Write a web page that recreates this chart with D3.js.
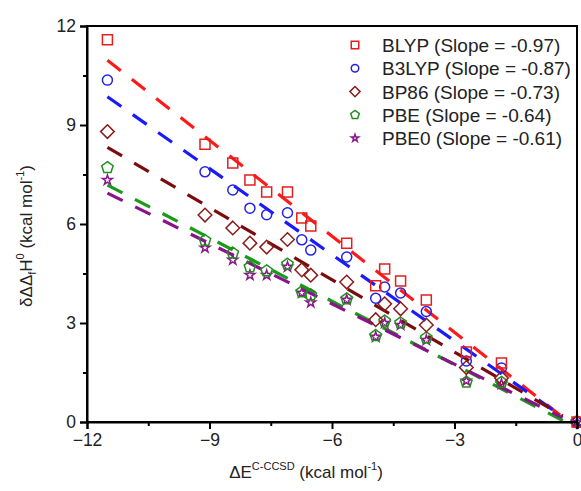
<!DOCTYPE html>
<html>
<head>
<meta charset="utf-8">
<script src="https://cdn.jsdelivr.net/npm/d3@7"></script>
<style>
  body { margin: 0; background: #fff; }
  svg { font-family: "Liberation Sans", Arial, sans-serif; }
</style>
</head>
<body>
<div id="chart"></div>
<script>
// Set dimensions and margins
const width = 581;
const height = 491;
const margin = {left: 87, right: 4, top: 26, bottom: 69};

// Data: shared x (ΔE C-CCSD) for each system
const xVals = [-11.5, -9.11, -8.43, -8.01, -7.6, -7.09, -6.74, -6.52, -5.64, -4.93, -4.71, -4.32, -3.69, -2.71, -1.85, 0];

const blyp  = [11.58, 8.42, 7.85, 7.33, 6.97, 6.97, 6.18, 5.94, 5.42, 4.13, 4.64, 4.27, 3.70, 2.12, 1.79, 0];
const b3lyp = [10.36, 7.58, 7.03, 6.48, 6.28, 6.34, 5.52, 5.21, 5.00, 3.75, 4.09, 3.91, 3.35, 1.85, 1.64, 0];
const bp86  = [8.80, 6.27, 5.88, 5.42, 5.30, 5.53, 4.61, 4.45, 4.24, 3.10, 3.58, 3.43, 2.94, 1.65, 1.33, 0];
const pbe   = [7.71, 5.50, 5.12, 4.70, 4.58, 4.78, 3.94, 3.85, 3.73, 2.62, 3.06, 3.00, 2.55, 1.21, 1.20, 0];
const pbe0  = [7.33, 5.28, 4.91, 4.45, 4.45, 4.70, 3.91, 3.62, 3.70, 2.58, 3.00, 2.94, 2.48, 1.25, 1.15, 0];

const seriesNames = ["BLYP", "B3LYP", "BP86", "PBE", "PBE0"];
const slopes = [-0.97, -0.87, -0.73, -0.64, -0.61];
const intercepts = [-0.19, -0.15, -0.07, -0.18, -0.08];
const fitRange = [-11.5, -0.35];

const xTicks = [-12, -9, -6, -3, 0];
const yTicks = [0, 3, 6, 9, 12];

// styles
const markerColors = ["#e41e1e", "#2323e6", "#8b1c1c", "#1f8f1f", "#8a1a8a"];
const lineColors = ["#ff1a1a", "#1a1aff", "#7a0c0c", "#1a9a1a", "#8a128a"];
const shapes = ["square", "circle", "diamond", "pentagon", "star"];
const allY = [blyp, b3lyp, bp86, pbe, pbe0];

const svg = d3.select("#chart")
  .append("svg")
  .attr("width", width)
  .attr("height", height);

let xScale = d3.scaleLinear()
  .domain([-12, 0])
  .range([margin.left, width - margin.right]);

let yScale = d3.scaleLinear()
  .domain([0, 12])
  .range([height - margin.bottom, margin.top]);

// marker path generator
function markerPath(shape, s) {
  if (shape === "square") return d3.symbol(d3.symbolSquare, s * s)();
  if (shape === "circle") return d3.symbol(d3.symbolCircle, Math.PI * s * s / 4)();
  if (shape === "diamond") {
    const r = s * 0.68;
    return `M0,${-r}L${r},0L0,${r}L${-r},0Z`;
  }
  if (shape === "pentagon") {
    const r = s * 0.6;
    let p = [];
    for (let k = 0; k < 5; k++) {
      const a = -Math.PI / 2 + k * 2 * Math.PI / 5;
      p.push([r * Math.cos(a), r * Math.sin(a)]);
    }
    return "M" + p.map(q => q.join(",")).join("L") + "Z";
  }
  if (shape === "star") return d3.symbol(d3.symbolStar, s * s * 0.3)();
}

// regression lines (dashed)
seriesNames.forEach((name, i) => {
  const pts = fitRange.map(x => [x, slopes[i] * x + intercepts[i]]);
  svg.append("path")
    .attr("d", d3.line().x(d => xScale(d[0])).y(d => yScale(d[1]))(pts))
    .attr("fill", "none")
    .attr("stroke", lineColors[i])
    .attr("stroke-width", 3.2)
    .attr("stroke-dasharray", "17,14");
});

// scatter markers, drawn last series first so BLYP is on top
for (let i = seriesNames.length - 1; i >= 0; i--) {
  svg.append("g")
    .selectAll("path")
    .data(xVals.map((x, j) => [x, allY[i][j]]))
    .enter()
    .append("path")
      .attr("transform", d => `translate(${xScale(d[0])},${yScale(d[1])})`)
      .attr("d", markerPath(shapes[i], 10))
      .attr("fill", "none")
      .attr("stroke", markerColors[i])
      .attr("stroke-width", 1.5);
}

// frame
svg.append("rect")
  .attr("x", margin.left)
  .attr("y", margin.top)
  .attr("width", width - margin.right - margin.left)
  .attr("height", height - margin.bottom - margin.top)
  .attr("fill", "none")
  .attr("stroke", "#000")
  .attr("stroke-width", 2);

// axes
svg.append("g")
  .attr("transform", `translate(0,${height - margin.bottom})`)
  .call(d3.axisBottom(xScale).tickValues(xTicks).tickSize(7).tickPadding(5).tickFormat(d3.format("d")));
svg.append("g")
  .attr("transform", `translate(0,${height - margin.bottom})`)
  .call(d3.axisBottom(xScale).tickValues([-10.5, -7.5, -4.5, -1.5]).tickSize(4).tickFormat(""))
  .call(g => g.select(".domain").remove());

svg.append("g")
  .attr("transform", `translate(${margin.left},0)`)
  .call(d3.axisLeft(yScale).tickValues(yTicks).tickSize(7).tickPadding(4).tickFormat(d3.format("d")));
svg.append("g")
  .attr("transform", `translate(${margin.left},0)`)
  .call(d3.axisLeft(yScale).tickValues([1.5, 4.5, 7.5, 10.5]).tickSize(4).tickFormat(""))
  .call(g => g.select(".domain").remove());

svg.selectAll(".domain").attr("stroke-width", 2);
svg.selectAll(".tick line").attr("stroke-width", 2);
svg.selectAll(".tick text")
  .attr("font-size", "17.5px")
  .attr("font-family", "Liberation Sans, Arial, sans-serif")
  .attr("fill", "#222");

// legend
const legend = svg.append("g");
seriesNames.forEach((name, i) => {
  const ly = 45 + i * 23.3;
  legend.append("path")
    .attr("transform", `translate(355,${ly})`)
    .attr("d", markerPath(shapes[i], 7.5))
    .attr("fill", "none")
    .attr("stroke", markerColors[i])
    .attr("stroke-width", 1.5);
  legend.append("text")
    .attr("x", 382)
    .attr("y", ly + 7)
    .attr("font-size", "19px")
    .attr("fill", "#222")
    .text(`${name} (Slope = ${slopes[i].toFixed(2)})`);
});

// x axis title
const xt = svg.append("text")
  .attr("x", 306)
  .attr("y", 478)
  .attr("text-anchor", "middle")
  .attr("font-size", "17px")
  .attr("fill", "#222");
xt.append("tspan").text("\u0394E");
xt.append("tspan").attr("font-size", "11px").attr("dy", -8).text("C-CCSD");
xt.append("tspan").attr("dy", 8).text(" (kcal mol");
xt.append("tspan").attr("font-size", "11px").attr("dy", -8).text("-1");
xt.append("tspan").attr("dy", 8).text(")");

// y axis title
const yt = svg.append("text")
  .attr("transform", `translate(32,${236}) rotate(-90)`)
  .attr("text-anchor", "middle")
  .attr("font-size", "17px")
  .attr("fill", "#222");
yt.append("tspan").text("\u03b4\u0394\u0394");
yt.append("tspan").attr("font-size", "11px").attr("dy", 4).text("f");
yt.append("tspan").attr("dy", -4).text("H");
yt.append("tspan").attr("font-size", "11px").attr("dy", -8).text("0");
yt.append("tspan").attr("dy", 8).text(" (kcal mol");
yt.append("tspan").attr("font-size", "11px").attr("dy", -8).text("-1");
yt.append("tspan").attr("dy", 8).text(")");
</script>
</body>
</html>
